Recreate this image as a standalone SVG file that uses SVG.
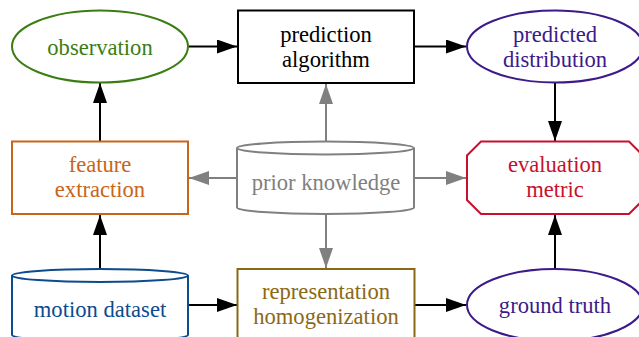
<svg xmlns="http://www.w3.org/2000/svg" width="639" height="337" viewBox="0 0 639 337">
<defs>
<style>
.n{fill:#fff;stroke-width:2}
.e{fill:none;stroke:#000;stroke-width:2}
.gr{fill:none;stroke:#808080;stroke-width:2}
</style>
<marker id="ab" viewBox="0 0 20 14" refX="20" refY="7" markerWidth="20" markerHeight="14" markerUnits="userSpaceOnUse" orient="auto"><path d="M0,0 L20,7 L0,14 z" fill="#000"/></marker>
<marker id="ag" viewBox="0 0 20 14" refX="20" refY="7" markerWidth="20" markerHeight="14" markerUnits="userSpaceOnUse" orient="auto"><path d="M0,0 L20,7 L0,14 z" fill="#808080"/></marker>
</defs>
<rect width="639" height="337" fill="#fff"/>
<g id="connectors">
<line class="e" x1="188" y1="46.5" x2="237" y2="46.5" marker-end="url(#ab)"/>
<line class="e" x1="414" y1="46.5" x2="466" y2="46.5" marker-end="url(#ab)"/>
<line class="e" x1="555" y1="83" x2="555" y2="141" marker-end="url(#ab)"/>
<line class="e" x1="100" y1="141" x2="100" y2="83" marker-end="url(#ab)"/>
<line class="e" x1="100" y1="269" x2="100" y2="215" marker-end="url(#ab)"/>
<line class="e" x1="188" y1="305" x2="237" y2="305" marker-end="url(#ab)"/>
<line class="e" x1="414" y1="305" x2="466" y2="305" marker-end="url(#ab)"/>
<line class="e" x1="555" y1="269" x2="555" y2="215" marker-end="url(#ab)"/>
<line class="gr" x1="326" y1="141" x2="326" y2="84" marker-end="url(#ag)"/>
<line class="gr" x1="237" y1="178" x2="189" y2="178" marker-end="url(#ag)"/>
<line class="gr" x1="414" y1="178" x2="466" y2="178" marker-end="url(#ag)"/>
<line class="gr" x1="326" y1="214" x2="326" y2="268" marker-end="url(#ag)"/>
</g>
<g font-family="Liberation Serif" font-size="22.6" text-anchor="middle">
<g id="observation">
<ellipse class="n" cx="100" cy="46.5" rx="88" ry="36" stroke="#3b7d12"/>
<text x="100" y="54.5" fill="#3b7d12">observation</text>
</g>
<g id="prediction">
<rect class="n" x="238" y="10.5" width="176" height="72.5" stroke="#000"/>
<text x="326" y="42" fill="#000">prediction</text>
<text x="326" y="67" fill="#000">algorithm</text>
</g>
<g id="distribution">
<ellipse class="n" cx="555" cy="46.5" rx="88" ry="36" stroke="#3c1a8a"/>
<text x="555" y="42" fill="#3c1a8a">predicted</text>
<text x="555" y="67" fill="#3c1a8a">distribution</text>
</g>
<g id="feature">
<rect class="n" x="12" y="141.5" width="176" height="72.5" stroke="#c8651b"/>
<text x="100" y="172" fill="#c8651b">feature</text>
<text x="100" y="197" fill="#c8651b">extraction</text>
</g>
<g id="prior">
<path class="n" d="M237,148 L237,207.5 A88.5,6.5 0 0 0 414,207.5 L414,148" stroke="#808080"/>
<ellipse class="n" cx="325.5" cy="148" rx="88.5" ry="6.5" stroke="#808080"/>
<text x="326" y="190" fill="#808080">prior knowledge</text>
</g>
<g id="evaluation">
<polygon class="n" points="481,141.5 629,141.5 643,155.5 643,200 629,214 481,214 467,200 467,155.5" stroke="#c8102e"/>
<text x="555" y="172" fill="#c8102e">evaluation</text>
<text x="555" y="197" fill="#c8102e">metric</text>
</g>
<g id="motion">
<path class="n" d="M12,275.5 L12,335 A88,6.5 0 0 0 188,335 L188,275.5" stroke="#0c4b8e"/>
<ellipse class="n" cx="100" cy="275.5" rx="88" ry="6.5" stroke="#0c4b8e"/>
<text x="100" y="317" fill="#0c4b8e">motion dataset</text>
</g>
<g id="representation">
<rect class="n" x="237.5" y="269" width="177" height="72.5" stroke="#8b6914"/>
<text x="326" y="299" fill="#8b6914">representation</text>
<text x="326" y="324" fill="#8b6914">homogenization</text>
</g>
<g id="groundtruth">
<ellipse class="n" cx="555" cy="305" rx="88" ry="36" stroke="#3c1a8a"/>
<text x="555" y="312.5" fill="#3c1a8a">ground truth</text>
</g>
</g>
</svg>
